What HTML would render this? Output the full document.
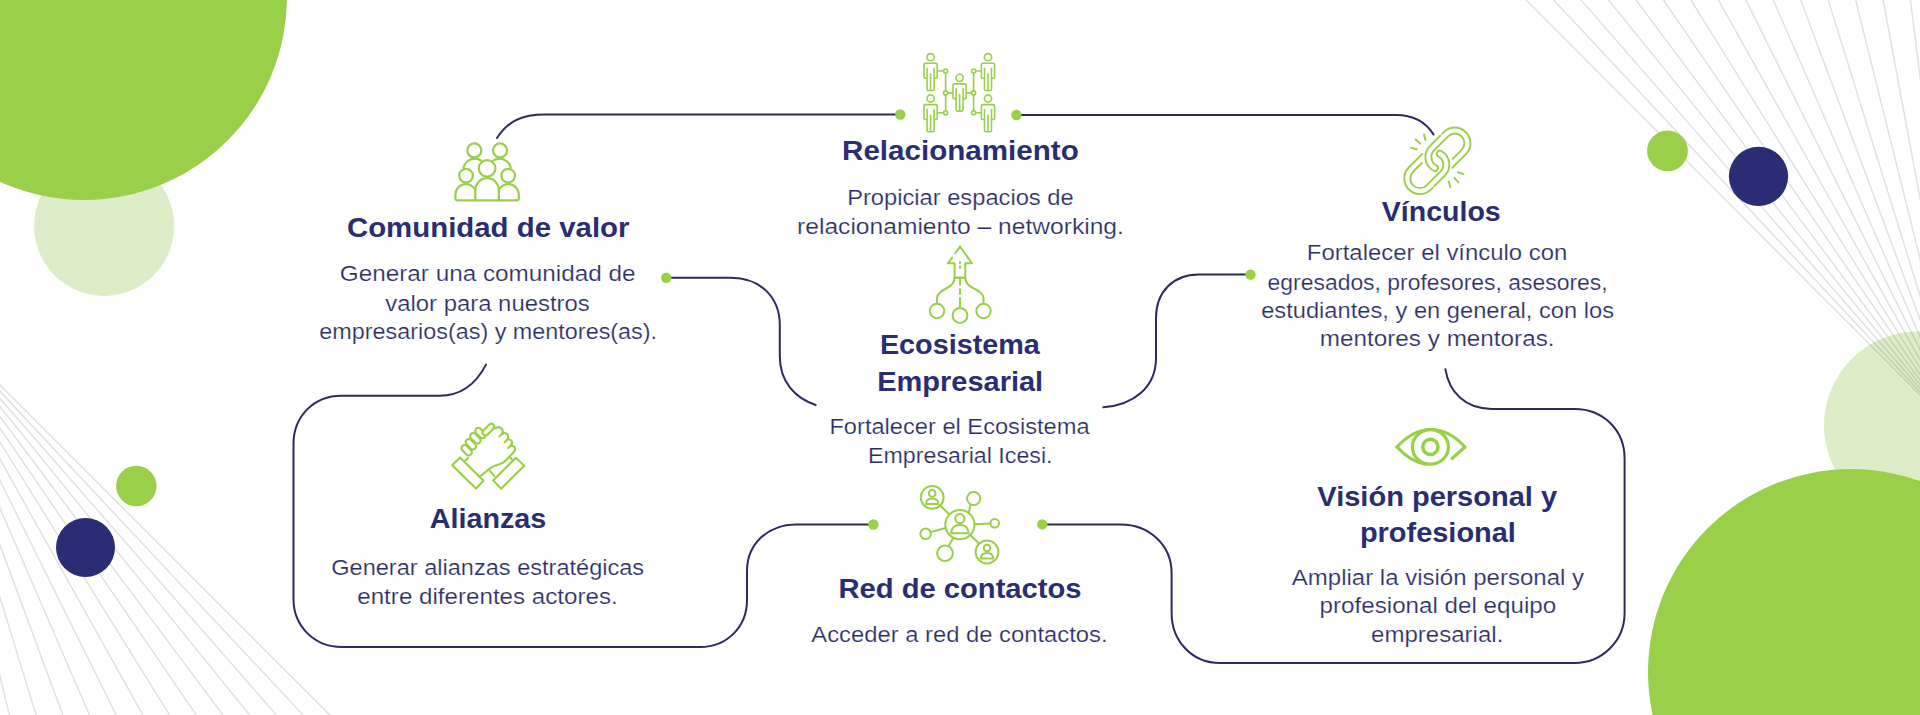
<!DOCTYPE html>
<html><head><meta charset="utf-8"><style>
html,body{margin:0;padding:0;background:#fff;width:1920px;height:715px;overflow:hidden}
svg{display:block}
.tb{font-family:"Liberation Sans",sans-serif;font-weight:bold;font-size:27.5px;fill:#2a2d72;text-anchor:middle}
.tr{font-family:"Liberation Sans",sans-serif;font-size:21.4px;fill:#2b2d64;text-anchor:middle;stroke:#fff;stroke-width:0.2px}
</style></head><body>
<svg width="1920" height="715" viewBox="0 0 1920 715">
<rect width="1920" height="715" fill="#fff"/>
<circle cx="104.1" cy="225.9" r="70" fill="#ddedc7"/>
<circle cx="84" cy="-3" r="203" fill="#9acf4a"/>
<circle cx="1918" cy="425.4" r="94" fill="#ddedc7"/>
<g stroke="rgba(0,0,0,0.125)" stroke-width="1.4" fill="none">
<line x1="-94" y1="291" x2="30.1" y2="799.8"/>
<line x1="-94" y1="291" x2="62.1" y2="799.8"/>
<line x1="-94" y1="291" x2="94.2" y2="799.8"/>
<line x1="-94" y1="291" x2="126.2" y2="799.8"/>
<line x1="-94" y1="291" x2="158.2" y2="799.8"/>
<line x1="-94" y1="291" x2="190.3" y2="799.8"/>
<line x1="-94" y1="291" x2="222.3" y2="799.8"/>
<line x1="-94" y1="291" x2="254.4" y2="799.8"/>
<line x1="-94" y1="291" x2="286.4" y2="799.8"/>
<line x1="-94" y1="291" x2="318.4" y2="799.8"/>
<line x1="-94" y1="291" x2="350.5" y2="799.8"/>
<line x1="-94" y1="291" x2="382.5" y2="799.8"/>
<line x1="-94" y1="291" x2="414.6" y2="799.8"/>
<line x1="1965" y1="440" x2="1482.3" y2="-44.0"/>
<line x1="1965" y1="440" x2="1512.5" y2="-44.0"/>
<line x1="1965" y1="440" x2="1542.7" y2="-44.0"/>
<line x1="1965" y1="440" x2="1572.9" y2="-44.0"/>
<line x1="1965" y1="440" x2="1603.1" y2="-44.0"/>
<line x1="1965" y1="440" x2="1633.3" y2="-44.0"/>
<line x1="1965" y1="440" x2="1663.5" y2="-44.0"/>
<line x1="1965" y1="440" x2="1693.7" y2="-44.0"/>
<line x1="1965" y1="440" x2="1723.9" y2="-44.0"/>
<line x1="1965" y1="440" x2="1754.1" y2="-44.0"/>
<line x1="1965" y1="440" x2="1784.3" y2="-44.0"/>
<line x1="1965" y1="440" x2="1814.5" y2="-44.0"/>
<line x1="1965" y1="440" x2="1844.7" y2="-44.0"/>
<line x1="1965" y1="440" x2="1874.9" y2="-44.0"/>
<line x1="1965" y1="440" x2="1905.0" y2="-44.0"/>
<line x1="1965" y1="440" x2="1935.2" y2="-44.0"/>
</g>
<circle cx="1851" cy="672" r="203" fill="#9acf4a"/>
<circle cx="136.3" cy="486" r="20.2" fill="#9acf4a"/>
<circle cx="85.5" cy="547.5" r="29.5" fill="#2a2d73"/>
<circle cx="1667.5" cy="150.8" r="20.4" fill="#9acf4a"/>
<circle cx="1758.5" cy="176.4" r="29.6" fill="#2a2d73"/>
<g stroke="#2a2b5f" stroke-width="2" fill="none" stroke-linecap="round">

<path d="M497,138 C508,121 522,114.5 545,114.5 L900,114.5"/>
<path d="M1016,115 L1396,115 C1412,115 1425,121 1433.5,134.4"/>
<path d="M666,277.7 L731,277.7 C760,277.7 779.8,297 779.8,325 L779.8,356 C779.8,382 795,398 815.7,405"/>
<path d="M1103.4,407.3 C1133,405 1156,388 1156,358 L1156,318 C1156,292 1173,274.6 1199,274.6 L1250,274.6"/>
<path d="M486,364.6 C476,384 460,395.7 439.4,395.7 L341.5,395.7 C314,395.7 293.5,416 293.5,444 L293.5,599 C293.5,626 314,647 342,647 L700,647 C727,647 747,627 747,600 L747,571 C747,544 768,524.4 796,524.4 L873,524.4"/>
<path d="M1042,524.4 L1121,524.4 C1149,524.4 1171.6,545 1171.6,573 L1171.6,613 C1171.6,641 1192,663 1220,663 L1574.5,663 C1602,663 1624.6,641 1624.6,613 L1624.6,458.5 C1624.6,430 1603,408.9 1574.6,408.9 L1491.5,408.9 C1465,408.9 1449,392 1445.4,369.2"/>

</g>
<g fill="#9acf4a">
<circle cx="900.3" cy="114.5" r="5.2"/><circle cx="1016.4" cy="115" r="5.2"/><circle cx="666.3" cy="277.8" r="5.2"/><circle cx="1250.5" cy="274.6" r="5.2"/><circle cx="873.4" cy="524.5" r="5.2"/><circle cx="1042.2" cy="524.4" r="5.2"/>
</g>
<g stroke="#9acf4a" stroke-width="2" fill="none" stroke-linecap="round" stroke-linejoin="round">
<g stroke-width="1.6">
<circle cx="930.6" cy="57.2" r="3.6"/><path d="M927.1,78.2 L925.0,78.2 Q924.0,78.2 924.0,77.2 L924.0,64.7 Q924.0,63.300000000000004 925.4,63.300000000000004 L935.8000000000001,63.300000000000004 Q937.2,63.300000000000004 937.2,64.7 L937.2,77.2 Q937.2,78.2 936.2,78.2 L934.1,78.2 L934.1,89.2 Q934.1,90.5 932.8000000000001,90.5 L928.4,90.5 Q927.1,90.5 927.1,89.2 Z M927.1,68.2 L927.1,78.2 M934.1,68.2 L934.1,78.2 M930.6,74.0 L930.6,90.5"/>
<circle cx="988" cy="57.2" r="3.6"/><path d="M984.5,78.2 L982.4,78.2 Q981.4,78.2 981.4,77.2 L981.4,64.7 Q981.4,63.300000000000004 982.8,63.300000000000004 L993.2,63.300000000000004 Q994.6,63.300000000000004 994.6,64.7 L994.6,77.2 Q994.6,78.2 993.6,78.2 L991.5,78.2 L991.5,89.2 Q991.5,90.5 990.2,90.5 L985.8,90.5 Q984.5,90.5 984.5,89.2 Z M984.5,68.2 L984.5,78.2 M991.5,68.2 L991.5,78.2 M988,74.0 L988,90.5"/>
<circle cx="959.6" cy="77.8" r="3.6"/><path d="M956.1,98.8 L954.0,98.8 Q953.0,98.8 953.0,97.8 L953.0,85.3 Q953.0,83.89999999999999 954.4,83.89999999999999 L964.8000000000001,83.89999999999999 Q966.2,83.89999999999999 966.2,85.3 L966.2,97.8 Q966.2,98.8 965.2,98.8 L963.1,98.8 L963.1,109.8 Q963.1,111.1 961.8000000000001,111.1 L957.4,111.1 Q956.1,111.1 956.1,109.8 Z M956.1,88.8 L956.1,98.8 M963.1,88.8 L963.1,98.8 M959.6,94.6 L959.6,111.1"/>
<circle cx="930.6" cy="98.5" r="3.6"/><path d="M927.1,119.5 L925.0,119.5 Q924.0,119.5 924.0,118.5 L924.0,106.0 Q924.0,104.6 925.4,104.6 L935.8000000000001,104.6 Q937.2,104.6 937.2,106.0 L937.2,118.5 Q937.2,119.5 936.2,119.5 L934.1,119.5 L934.1,130.5 Q934.1,131.8 932.8000000000001,131.8 L928.4,131.8 Q927.1,131.8 927.1,130.5 Z M927.1,109.5 L927.1,119.5 M934.1,109.5 L934.1,119.5 M930.6,115.3 L930.6,131.8"/>
<circle cx="988" cy="98.5" r="3.6"/><path d="M984.5,119.5 L982.4,119.5 Q981.4,119.5 981.4,118.5 L981.4,106.0 Q981.4,104.6 982.8,104.6 L993.2,104.6 Q994.6,104.6 994.6,106.0 L994.6,118.5 Q994.6,119.5 993.6,119.5 L991.5,119.5 L991.5,130.5 Q991.5,131.8 990.2,131.8 L985.8,131.8 Q984.5,131.8 984.5,130.5 Z M984.5,109.5 L984.5,119.5 M991.5,109.5 L991.5,119.5 M988,115.3 L988,131.8"/>
<path d="M945.6,73 L945.6,90.9 M945.6,94.9 L945.6,110.7"/>
<circle cx="945.6" cy="71" r="2"/>
<circle cx="945.6" cy="92.9" r="2"/>
<circle cx="945.6" cy="112.7" r="2"/>
<path d="M973.6,73 L973.6,90.9 M973.6,94.9 L973.6,110.7"/>
<circle cx="973.6" cy="71" r="2"/>
<circle cx="973.6" cy="92.9" r="2"/>
<circle cx="973.6" cy="112.7" r="2"/>
<path d="M937.6,71 L943.6,71 M937.6,112.7 L943.6,112.7 M947.6,92.9 L952.6,92.9 M980.9,71 L975.6,71 M980.9,112.7 L975.6,112.7 M971.6,92.9 L966.6,92.9"/>
</g>

<g stroke-width="2.2">
<circle cx="474.3" cy="150.4" r="7"/>
<circle cx="500" cy="150.4" r="7"/>
<circle cx="487.1" cy="168.4" r="8.3"/>
<circle cx="466" cy="175.6" r="6.8"/>
<circle cx="508.2" cy="175.6" r="6.8"/>
<path d="M463.6,167.6 A11.5,11.5 0 0 1 481.2,160.6"/>
<path d="M510.7,167.6 A11.5,11.5 0 0 0 493.1,160.6"/>
<path d="M475.3,189.6 A10.6,10.6 0 0 0 455.4,194.7 L455.4,198.3 Q455.4,200.3 457.4,200.3 L516.8,200.3 Q518.8,200.3 518.8,198.3 L518.8,194.7 A10.6,10.6 0 0 0 498.9,189.6"/>
<path d="M475.3,200.3 L475.3,190 A11.8,11.8 0 0 1 498.9,190 L498.9,200.3"/>
</g>


<path d="M952.2,257.6 L947.9,263.3 L954.6,263.3 L954.6,277.7 L965.3,277.7 L965.3,263.3 L972,263.3 L960,246.5 L955.3,253.2"/>
<path d="M954.6,277.7 L965.3,277.7"/>
<path d="M954.6,277.7 Q954.6,284 947,288 Q937,293 937,298 L937,303.5"/>
<path d="M965.3,277.7 Q965.3,284 973,288 Q983.5,293 983.5,298 L983.5,303.5"/>
<path d="M960,279 L960,284.5 M960,289 L960,294 M960,298 L960,308 M960,262 L960,263.5 M960,266.5 L960,268"/>
<circle cx="937" cy="311" r="7.2"/>
<circle cx="960" cy="315.5" r="7.4"/>
<circle cx="983.5" cy="311" r="7.2"/>


<circle cx="959.9" cy="524.7" r="14.6"/>
<circle cx="959.9" cy="518.6" r="4.6"/>
<path d="M951.2,533.3 Q951.5,525 959.9,525 Q968.3,525 968.6,533.3 Z"/>
<circle cx="932.2" cy="497.4" r="11.4"/>
<circle cx="932.2" cy="493.4" r="3.3"/>
<path d="M926,504 Q926.3,498.5 932.2,498.5 Q938.1,498.5 938.4,504 Z"/>
<circle cx="987" cy="552" r="11.4"/>
<circle cx="987" cy="548" r="3.3"/>
<path d="M980.8,558.6 Q981.1,553.1 987,553.1 Q992.9,553.1 993.2,558.6 Z"/>
<circle cx="973.7" cy="498.5" r="6.6"/>
<circle cx="994.7" cy="523.3" r="4.3"/>
<circle cx="925.6" cy="533.7" r="5.3"/>
<circle cx="945" cy="553.3" r="7.8"/>
<path d="M940.2,505.5 L949.3,514.5 M968.8,512.8 L970.5,504.4 M974.5,524.3 L990.4,523.6 M931,532 L945.6,528 M953.4,537.8 L948.5,546 M970.3,535 L979,543.5"/>

<g transform="translate(1400 125) scale(0.10067)" stroke-width="19">
<path d="M332.0,453.5 A155.0,155.0 0 0 1 297.5,208.3 L400.0,105.8 M417.7,88.1 L435.4,70.4 A155.0,155.0 0 0 1 654.6,289.6 L519.5,424.7 M332.0,453.5 A30.0,30.0 0 0 0 361.1,401.0 A95.0,95.0 0 0 1 339.9,250.7 L477.8,112.8 A95.0,95.0 0 0 1 612.2,247.2 L524.5,334.9"/>
<path transform="rotate(180 371 356)" d="M332.0,453.5 A155.0,155.0 0 0 1 297.5,208.3 L400.0,105.8 M417.7,88.1 L435.4,70.4 A155.0,155.0 0 0 1 654.6,289.6 L519.5,424.7 M332.0,453.5 A30.0,30.0 0 0 0 361.1,401.0 A95.0,95.0 0 0 1 339.9,250.7 L477.8,112.8 A95.0,95.0 0 0 1 612.2,247.2 L524.5,334.9"/>
</g>
<path d="M1411.1,147.7 L1416.6,149.2 M1415.6,139.6 L1420.1,143.6 M1424,134.6 L1425.4,140.1 M1457.9,172.3 L1463.4,174.1 M1454.4,177.9 L1458.4,182.4 M1448.8,181.4 L1450.3,186.9"/>

<g transform="translate(450 420) scale(0.10064)" stroke-width="21">
<path d="M22,450 L100,372 L333,603 L258,680 Z"/>
<path d="M655,375 L738,455 L508,682 L428,600 Z"/>
<path d="M150,405 L178,377"/>
<path d="M305,555 L385,490 Q430,452 490,440 Q525,432 550,405 L630,322 Q660,290 637,266 Q618,250 600,258"/>
<path d="M600,258 Q627,228 610,205 Q592,185 570,195"/>
<path d="M570,195 Q587,160 567,140 Q547,122 522,135"/>
<path d="M522,135 Q532,100 507,80 Q482,62 455,80"/>
<path d="M600,258 L578,277 M570,195 L542,222 M522,135 L492,162"/>
<path d="M392,500 L440,555 M590,366 L615,392"/>
<rect x="105" y="269" width="120" height="62" rx="31" fill="#fff" transform="rotate(45 165 300)"/>
<rect x="147" y="209" width="120" height="62" rx="31" fill="#fff" transform="rotate(45 207 240)"/>
<rect x="192" y="151" width="120" height="62" rx="31" fill="#fff" transform="rotate(45 252 182)"/>
<rect x="242" y="99" width="120" height="62" rx="31" fill="#fff" transform="rotate(45 302 130)"/>
<rect x="312" y="66" width="140" height="58" rx="29" fill="#fff" transform="rotate(-45 382 95)"/>
</g>


<g stroke-width="3.2">
<path d="M1397,447 C1408,435 1419,429.5 1431,429.5 C1443,429.5 1454,435 1465,447 L1452,458.5"/>
<path d="M1397,447 C1406,457 1415,462.5 1426,464.2"/>
<ellipse cx="1430.4" cy="446.9" rx="18" ry="17.2"/>
<circle cx="1430.4" cy="446.9" r="7.6" stroke-width="3.6"/>
</g>

</g>
<text class="tb" x="960.4" y="160" textLength="236.7" lengthAdjust="spacingAndGlyphs">Relacionamiento</text>
<text class="tb" x="488.2" y="237" textLength="282.5" lengthAdjust="spacingAndGlyphs">Comunidad de valor</text>
<text class="tb" x="1441.3" y="220.6" textLength="118.9" lengthAdjust="spacingAndGlyphs">Vínculos</text>
<text class="tb" x="959.9" y="354.2" textLength="160.0" lengthAdjust="spacingAndGlyphs">Ecosistema</text>
<text class="tb" x="960.2" y="391.1" textLength="166.0" lengthAdjust="spacingAndGlyphs">Empresarial</text>
<text class="tb" x="488" y="527.8" textLength="116.5" lengthAdjust="spacingAndGlyphs">Alianzas</text>
<text class="tb" x="960" y="598" textLength="243.1" lengthAdjust="spacingAndGlyphs">Red de contactos</text>
<text class="tb" x="1437.2" y="505.5" textLength="239.8" lengthAdjust="spacingAndGlyphs">Visión personal y</text>
<text class="tb" x="1437.9" y="541.6" textLength="156.0" lengthAdjust="spacingAndGlyphs">profesional</text>
<text class="tr" x="960.4" y="205" textLength="226.5" lengthAdjust="spacingAndGlyphs">Propiciar espacios de</text>
<text class="tr" x="960.5" y="234" textLength="326.8" lengthAdjust="spacingAndGlyphs">relacionamiento – networking.</text>
<text class="tr" x="487.7" y="280.8" textLength="295.7" lengthAdjust="spacingAndGlyphs">Generar una comunidad de</text>
<text class="tr" x="487.5" y="310.6" textLength="204.5" lengthAdjust="spacingAndGlyphs">valor para nuestros</text>
<text class="tr" x="488.2" y="338.5" textLength="337.8" lengthAdjust="spacingAndGlyphs">empresarios(as) y mentores(as).</text>
<text class="tr" x="1437.1" y="260.2" textLength="260.5" lengthAdjust="spacingAndGlyphs">Fortalecer el vínculo con</text>
<text class="tr" x="1437.6" y="289.8" textLength="340.0" lengthAdjust="spacingAndGlyphs">egresados, profesores, asesores,</text>
<text class="tr" x="1437.6" y="317.8" textLength="352.9" lengthAdjust="spacingAndGlyphs">estudiantes, y en general, con los</text>
<text class="tr" x="1437.2" y="346" textLength="234.8" lengthAdjust="spacingAndGlyphs">mentores y mentoras.</text>
<text class="tr" x="959.5" y="433.8" textLength="260.1" lengthAdjust="spacingAndGlyphs">Fortalecer el Ecosistema</text>
<text class="tr" x="960.3" y="462.7" textLength="184.5" lengthAdjust="spacingAndGlyphs">Empresarial Icesi.</text>
<text class="tr" x="487.7" y="574.6" textLength="312.9" lengthAdjust="spacingAndGlyphs">Generar alianzas estratégicas</text>
<text class="tr" x="487.5" y="603.7" textLength="260.5" lengthAdjust="spacingAndGlyphs">entre diferentes actores.</text>
<text class="tr" x="959.4" y="641.7" textLength="296.2" lengthAdjust="spacingAndGlyphs">Acceder a red de contactos.</text>
<text class="tr" x="1437.9" y="585" textLength="292.2" lengthAdjust="spacingAndGlyphs">Ampliar la visión personal y</text>
<text class="tr" x="1437.9" y="613" textLength="236.6" lengthAdjust="spacingAndGlyphs">profesional del equipo</text>
<text class="tr" x="1437.2" y="642.1" textLength="132.3" lengthAdjust="spacingAndGlyphs">empresarial.</text>
</svg>
</body></html>
